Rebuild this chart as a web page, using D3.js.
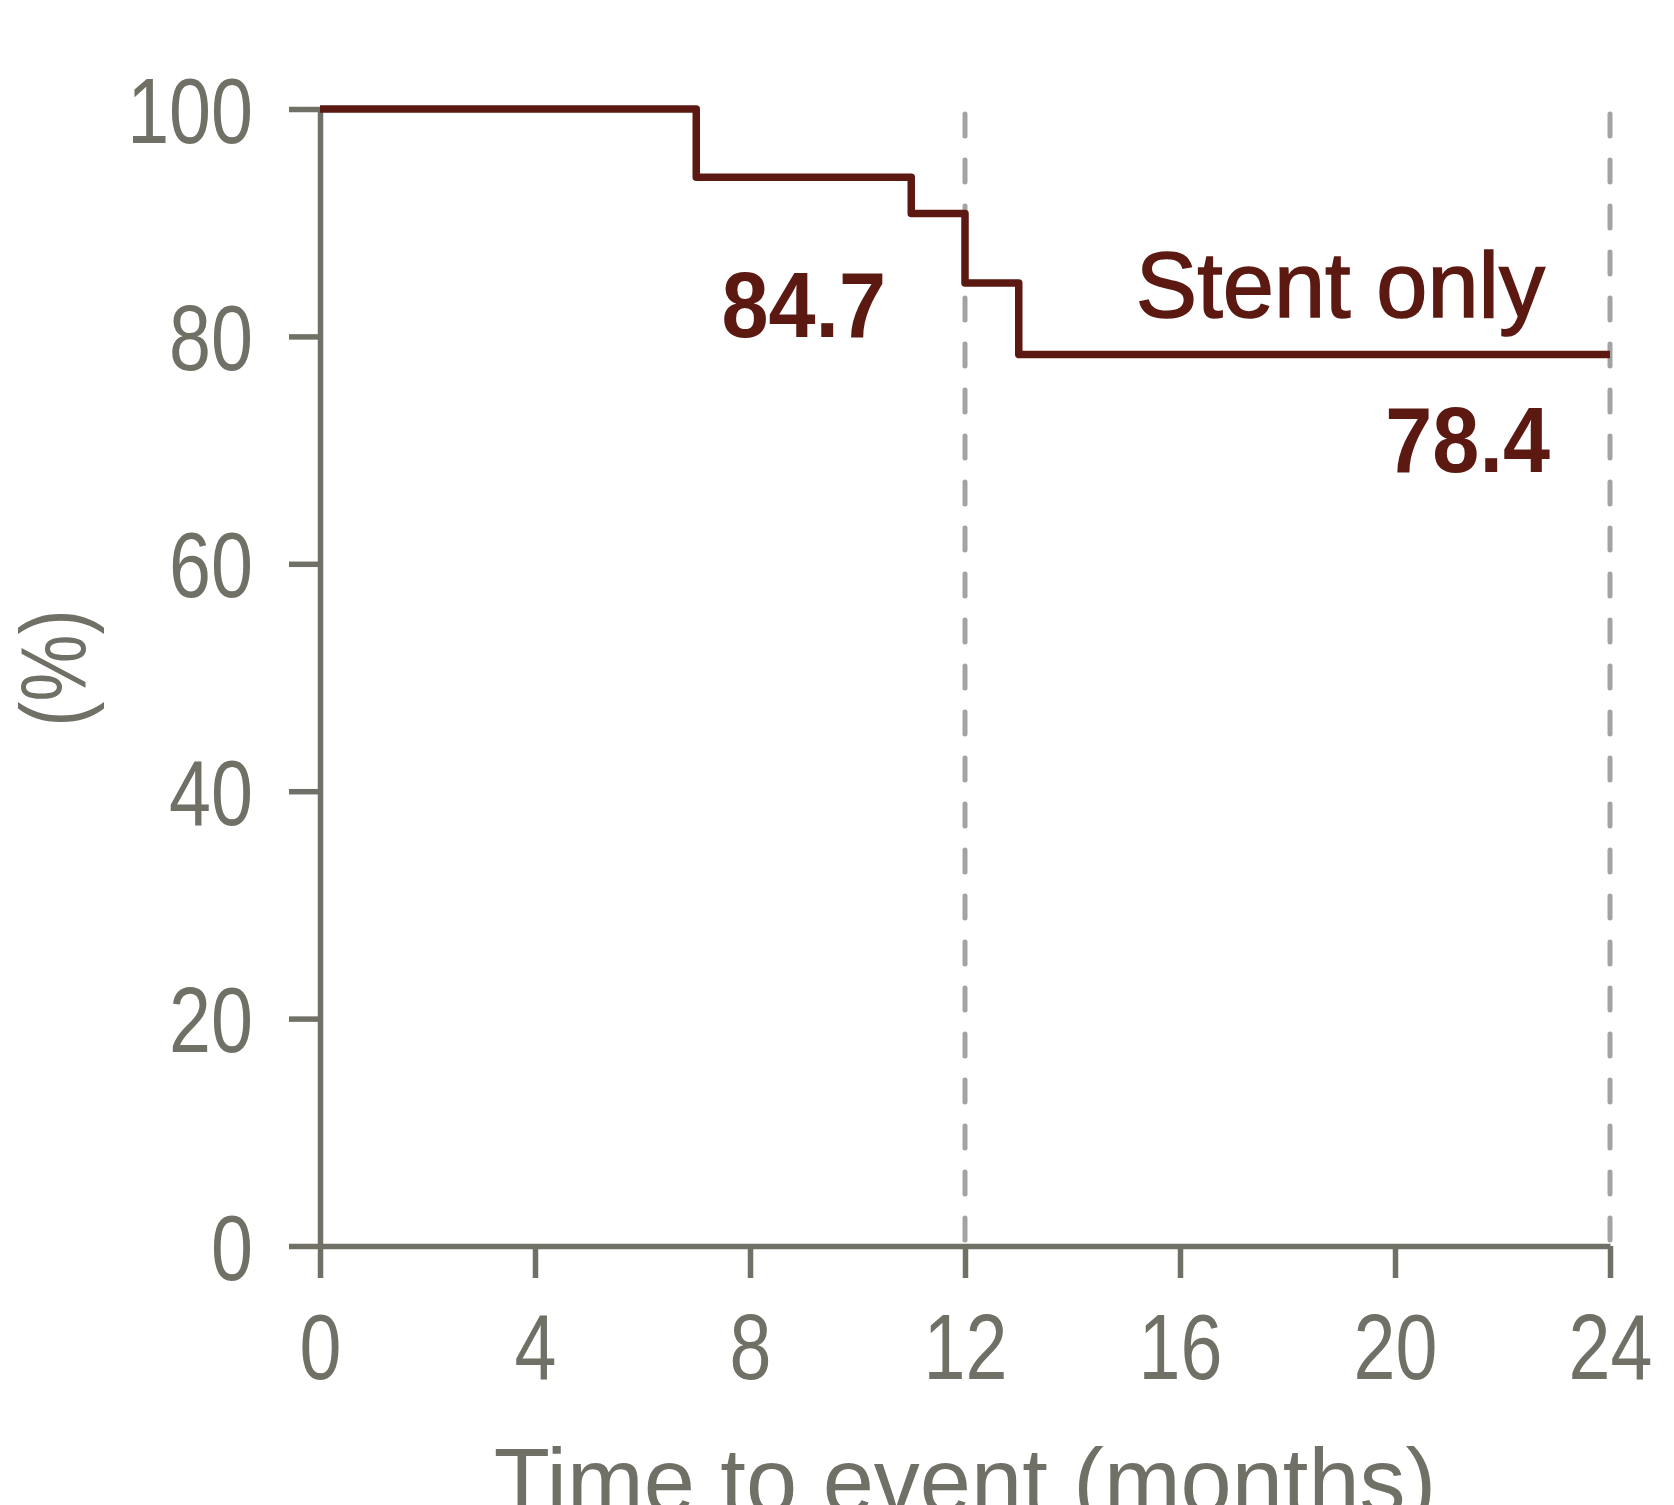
<!DOCTYPE html>
<html>
<head>
<meta charset="utf-8">
<script src="https://cdn.jsdelivr.net/npm/d3@7"></script>
<style>
  html, body { margin: 0; padding: 0; background: #ffffff; }
  svg { display: block; }
</style>
</head>
<body>
<svg id="chart" width="1674" height="1505"></svg>
<script>
// Event-free survival, stent only group
const months = [0, 7, 11, 12, 13, 24];
const survival = [100, 94.0, 90.8, 84.7, 78.4, 78.4];
const xTicks = [0, 4, 8, 12, 16, 20, 24];
const yTicks = [0, 20, 40, 60, 80, 100];
const landmarkMonths = [12, 24];
const seriesName = "Stent only";
const xTitle = "Time to event (months)";
const yTitle = "(%)";

const axisColor = "#707066";
const dashColor = "#a3a3a3";
const seriesColor = "#5b1911";
const textFont = "'Liberation Sans', Arial, sans-serif";
// condensed look for numerals: horizontal squeeze factors
const tickSqueeze = 0.82;
const valueSqueeze = 0.92;

const svg = d3.select("#chart");

const x = d3.scaleLinear().domain([0, 24]).range([320, 1610]);
const y = d3.scaleLinear().domain([0, 100]).range([1246, 109]);

// landmark reference lines
svg.append("g")
  .selectAll("line")
  .data(landmarkMonths)
  .join("line")
  .attr("x1", d => x(d)).attr("x2", d => x(d))
  .attr("y1", y(100) + 5).attr("y2", y(0))
  .attr("stroke", dashColor)
  .attr("stroke-width", 5)
  .attr("stroke-linecap", "round")
  .attr("stroke-dasharray", "22 24");

// y axis
const yTickSize = 31, yTickPad = 36;
const gy = svg.append("g")
  .attr("transform", `translate(${x(0)},0)`)
  .call(d3.axisLeft(y).tickValues(yTicks).tickSize(yTickSize).tickSizeOuter(0).tickPadding(yTickPad));

// x axis
const gx = svg.append("g")
  .attr("transform", `translate(0,${y(0)})`)
  .call(d3.axisBottom(x).tickValues(xTicks).tickSize(32).tickSizeOuter(0).tickPadding(34));

[gx, gy].forEach(g => {
  g.select(".domain").attr("stroke", axisColor).attr("stroke-width", 5.5);
  g.selectAll(".tick line").attr("stroke", axisColor).attr("stroke-width", 5.5);
  g.selectAll(".tick text")
    .attr("fill", axisColor)
    .style("font-family", textFont)
    .style("font-size", "92px");
});
gy.selectAll(".tick text")
  .attr("x", 0)
  .attr("dy", "0.36em")
  .attr("transform", `translate(${-(yTickSize + yTickPad)},0) scale(${tickSqueeze},1)`);
gx.selectAll(".tick text")
  .attr("y", 0)
  .attr("dy", 0)
  .attr("transform", `translate(0,133) scale(${tickSqueeze},1)`);

// survival curve
const pts = months.map((m, i) => [m, survival[i]]);
const line = d3.line()
  .x(d => x(d[0]))
  .y(d => y(d[1]))
  .curve(d3.curveStepAfter);

svg.append("path")
  .datum(pts)
  .attr("d", line)
  .attr("fill", "none")
  .attr("stroke", seriesColor)
  .attr("stroke-width", 7.5)
  .attr("stroke-linejoin", "round");

// landmark values
const valueAt = m => survival[d3.bisectRight(months, m) - 1];

svg.append("text")
  .attr("transform", `translate(${x(9)},${y(valueAt(12)) + 54}) scale(${valueSqueeze},1)`)
  .attr("text-anchor", "middle")
  .attr("fill", seriesColor)
  .style("font-family", textFont)
  .style("font-weight", "bold")
  .style("font-size", "92px")
  .text(valueAt(12).toFixed(1));

svg.append("text")
  .attr("transform", `translate(${x(24) - 60},${y(valueAt(24)) + 117}) scale(${valueSqueeze},1)`)
  .attr("text-anchor", "end")
  .attr("fill", seriesColor)
  .style("font-family", textFont)
  .style("font-weight", "bold")
  .style("font-size", "92px")
  .text(valueAt(24).toFixed(1));

// series label
svg.append("text")
  .attr("x", x(24) - 65)
  .attr("y", y(valueAt(24)) - 38)
  .attr("text-anchor", "end")
  .attr("fill", seriesColor)
  .attr("stroke", seriesColor)
  .attr("stroke-width", 1.5)
  .style("font-family", textFont)
  .style("font-size", "92px")
  .text(seriesName);

// axis titles
svg.append("text")
  .attr("x", (x(0) + x(24)) / 2)
  .attr("y", 1513)
  .attr("text-anchor", "middle")
  .attr("fill", axisColor)
  .style("font-family", textFont)
  .style("font-size", "92px")
  .text(xTitle);

svg.append("text")
  .attr("transform", `translate(85,668) rotate(-90) scale(${tickSqueeze},1)`)
  .attr("text-anchor", "middle")
  .attr("fill", axisColor)
  .style("font-family", textFont)
  .style("font-size", "92px")
  .text(yTitle);
</script>
</body>
</html>
